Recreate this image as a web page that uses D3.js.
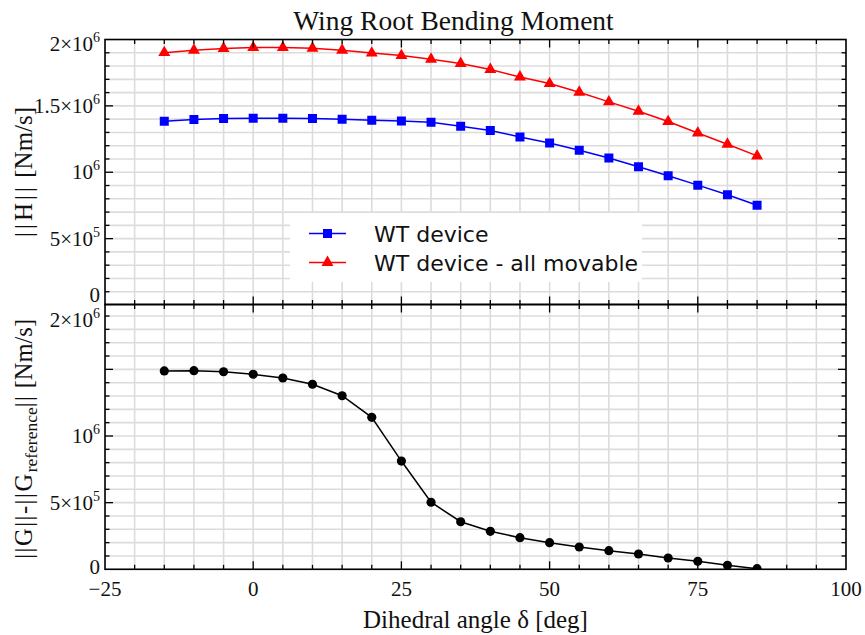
<!DOCTYPE html>
<html>
<head>
<meta charset="utf-8">
<script src="https://cdn.jsdelivr.net/npm/d3@7"></script>
<style>
  html, body { margin: 0; padding: 0; background: #fff; }
  svg { display: block; }
</style>
</head>
<body>
<svg id="chart" width="865" height="635"></svg>
<script>
// Dihedral angle sweep (deg)
const dihedral = [-15, -10, -5, 0, 5, 10, 15, 20, 25, 30, 35, 40, 45, 50, 55, 60, 65, 70, 75, 80, 85];

// ||H|| [Nm/s], wing root bending moment
const wtDevice = [1.384e6, 1.397e6, 1.405e6, 1.407e6, 1.407e6, 1.405e6, 1.400e6, 1.392e6, 1.387e6, 1.377e6,
                  1.347e6, 1.315e6, 1.266e6, 1.221e6, 1.166e6, 1.108e6, 1.041e6, 0.973e6, 0.903e6, 0.830e6, 0.752e6];
const wtDeviceAllMovable = [1.901e6, 1.919e6, 1.932e6, 1.939e6, 1.939e6, 1.934e6, 1.919e6, 1.898e6, 1.879e6, 1.851e6,
                            1.819e6, 1.774e6, 1.718e6, 1.668e6, 1.603e6, 1.530e6, 1.460e6, 1.382e6, 1.296e6, 1.211e6, 1.123e6];

// ||G|| - ||G_reference|| [Nm/s]
const gDifference = [1.488e6, 1.490e6, 1.482e6, 1.463e6, 1.435e6, 1.388e6, 1.302e6, 1.140e6, 0.812e6, 0.503e6,
                     0.357e6, 0.285e6, 0.237e6, 0.200e6, 0.167e6, 0.140e6, 0.115e6, 0.085e6, 0.060e6, 0.030e6, 0.005e6];

const seriesNames = ["WT device", "WT device - all movable"];

// Axis ticks
const xTickValues = [-25, 0, 25, 50, 75, 100];
const xTickLabels = ["\u221225", "0", "25", "50", "75", "100"];
const yTickValues = [0, 5e5, 1e6, 1.5e6, 2e6];
const yTickMantissa = ["0", "5\u00d710", "10", "1.5\u00d710", "2\u00d710"];
const yTickExponent = ["", "5", "6", "6", "6"];
const yBottomTickValues = [0, 5e5, 1e6, 2e6];

const svg = d3.select("#chart");
const serif = "'Liberation Serif', 'Times New Roman', serif";
const sans = "'DejaVu Sans', 'Noto Sans', sans-serif";

const left = 105, right = 846;
const topPanel = { y0: 39.5, y1: 304.5 };
const botPanel = { y0: 304.5, y1: 569.3 };

const x = d3.scaleLinear().domain([-25, 100]).range([left, right]);
const yTop = d3.scaleLinear().domain([0, 2e6]).range([305, 39.5]);
const yBot = d3.scaleLinear().domain([0, 2e6]).range([569.3, 302.7]);

// Clip paths per panel
const defs = svg.append("defs");
[["clipTop", topPanel], ["clipBot", botPanel]].forEach(([id, p]) => {
  defs.append("clipPath").attr("id", id)
    .append("rect").attr("x", left).attr("y", p.y0).attr("width", right - left).attr("height", p.y1 - p.y0);
});

const gridColor = "#dcdcdc";
const xMinor = d3.range(-25, 100.001, 5);
const yMinor = d3.range(0, 2e6 + 1, 1e5);

function drawGrid(panel, y, clipId) {
  const g = svg.append("g").attr("clip-path", `url(#${clipId})`);
  g.selectAll("line.v").data(xMinor).join("line")
    .attr("x1", d => x(d)).attr("x2", d => x(d))
    .attr("y1", panel.y0).attr("y2", panel.y1)
    .attr("stroke", gridColor).attr("stroke-width", 1.6);
  g.selectAll("line.h").data(yMinor).join("line")
    .attr("x1", left).attr("x2", right)
    .attr("y1", d => y(d)).attr("y2", d => y(d))
    .attr("stroke", gridColor).attr("stroke-width", 1.6);
}
drawGrid(topPanel, yTop, "clipTop");
drawGrid(botPanel, yBot, "clipBot");

// Series
function drawSeries(values, y, clipId, color, symbol, size) {
  const g = svg.append("g").attr("clip-path", `url(#${clipId})`);
  const pts = dihedral.map((d, i) => [d, values[i]]);
  g.append("path").datum(pts)
    .attr("fill", "none").attr("stroke", color).attr("stroke-width", 1.5)
    .attr("d", d3.line().x(d => x(d[0])).y(d => y(d[1])));
  g.selectAll("path.m").data(pts).join("path")
    .attr("transform", d => `translate(${x(d[0])},${y(d[1])})`)
    .attr("d", d3.symbol().type(symbol).size(size)())
    .attr("fill", color);
}
drawSeries(wtDeviceAllMovable, yTop, "clipTop", "#ff0000", d3.symbolTriangle, 62);
drawSeries(wtDevice, yTop, "clipTop", "#0000ff", d3.symbolSquare, 81);
drawSeries(gDifference, yBot, "clipBot", "#000000", d3.symbolCircle, 66);

// Legend
const legend = svg.append("g");
legend.append("rect").attr("x", 290).attr("y", 213).attr("width", 352).attr("height", 69).attr("fill", "#fff");
const legendItems = [
  { name: seriesNames[0], color: "#0000ff", symbol: d3.symbolSquare, size: 81 },
  { name: seriesNames[1], color: "#ff0000", symbol: d3.symbolTriangle, size: 62 }
];
legendItems.forEach((it, i) => {
  const cy = 233.5 + i * 29;
  legend.append("line").attr("x1", 309).attr("x2", 346).attr("y1", cy).attr("y2", cy)
    .attr("stroke", it.color).attr("stroke-width", 1.5);
  legend.append("path").attr("transform", `translate(327.5,${cy})`)
    .attr("d", d3.symbol().type(it.symbol).size(it.size)()).attr("fill", it.color);
  legend.append("text").attr("x", 374).attr("y", cy + 8)
    .attr("font-family", sans).attr("font-size", 22).attr("fill", "#111")
    .text(it.name);
});

// Ticks (inward, on every frame edge)
const tickG = svg.append("g").attr("stroke", "#000").attr("stroke-width", 1.3);
const isMajorX = d => Math.abs(d % 25) < 1e-9;
const isMajorY = d => Math.abs(d % 5e5) < 1;
function xTicksAt(yPos, dir) {
  tickG.selectAll(null).data(xMinor.filter(d => d > -25 && d < 100)).join("line")
    .attr("x1", d => x(d)).attr("x2", d => x(d))
    .attr("y1", yPos).attr("y2", d => yPos + dir * (isMajorX(d) ? 8 : 4.5));
}
xTicksAt(topPanel.y0, 1);
xTicksAt(topPanel.y1, -1);
xTicksAt(botPanel.y0, 1);
xTicksAt(botPanel.y1, -1);
function yTicksAt(y, panel) {
  const vals = yMinor.filter(v => y(v) > panel.y0 + 0.5 && y(v) < panel.y1 - 0.5);
  tickG.selectAll(null).data(vals).join("line")
    .attr("x1", left).attr("x2", d => left + (isMajorY(d) ? 8 : 4.5))
    .attr("y1", d => y(d)).attr("y2", d => y(d));
  tickG.selectAll(null).data(vals).join("line")
    .attr("x1", right).attr("x2", d => right - (isMajorY(d) ? 8 : 4.5))
    .attr("y1", d => y(d)).attr("y2", d => y(d));
}
yTicksAt(yTop, topPanel);
yTicksAt(yBot, botPanel);

// Frames
const frame = svg.append("g").attr("fill", "none").attr("stroke", "#000").attr("stroke-width", 1.6);
frame.append("rect").attr("x", left).attr("y", topPanel.y0).attr("width", right - left).attr("height", topPanel.y1 - topPanel.y0);
frame.append("rect").attr("x", left).attr("y", botPanel.y0).attr("width", right - left).attr("height", botPanel.y1 - botPanel.y0);

// Y tick labels; labels at a shared panel edge are nudged inward so they stay clear of the neighbour panel
function yLabels(y, values, nudge) {
  const g = svg.append("g").attr("font-family", serif).attr("font-size", 21).attr("fill", "#111");
  values.forEach(v => {
    const i = yTickValues.indexOf(v);
    const t = g.append("text").attr("x", 100).attr("y", y(v) + 7 + (nudge[v] || 0)).attr("text-anchor", "end");
    t.append("tspan").text(yTickMantissa[i]);
    if (yTickExponent[i]) t.append("tspan").attr("font-size", 14).attr("dy", -9).text(yTickExponent[i]);
  });
}
yLabels(yTop, yTickValues, { 0: -10, 2e6: 4 });
yLabels(yBot, yBottomTickValues, { 0: -2, 2e6: 17 });

// X tick labels
const xl = svg.append("g").attr("font-family", serif).attr("font-size", 21).attr("fill", "#111");
xTickValues.forEach((v, i) => {
  xl.append("text").attr("x", x(v)).attr("y", 596).attr("text-anchor", "middle").text(xTickLabels[i]);
});

// Title and axis titles
svg.append("text").attr("x", 453.5).attr("y", 30).attr("text-anchor", "middle")
  .attr("font-family", serif).attr("font-size", 27.5).attr("fill", "#111")
  .text("Wing Root Bending Moment");

svg.append("text").attr("x", (left + right) / 2).attr("y", 628).attr("text-anchor", "middle")
  .attr("font-family", serif).attr("font-size", 25).attr("fill", "#111")
  .text("Dihedral angle \u03b4 [deg]");

const yl1 = svg.append("text")
  .attr("transform", `translate(32,${(topPanel.y0 + topPanel.y1) / 2}) rotate(-90)`)
  .attr("text-anchor", "middle").attr("font-family", serif).attr("font-size", 25).attr("fill", "#111");
yl1.append("tspan").attr("letter-spacing", 3).text("||H||");
yl1.append("tspan").text(" [Nm/s]");

const yl2 = svg.append("text")
  .attr("transform", `translate(32,${(botPanel.y0 + botPanel.y1) / 2 + 2}) rotate(-90)`)
  .attr("text-anchor", "middle").attr("font-family", serif).attr("font-size", 24.5).attr("fill", "#111");
yl2.append("tspan").attr("letter-spacing", 1.5).text("||G||-||G");
yl2.append("tspan").attr("font-size", 17.5).attr("dy", 5).text("reference");
yl2.append("tspan").attr("dy", -5).attr("letter-spacing", 1.5).text("||");
yl2.append("tspan").text(" [Nm/s]");
</script>
</body>
</html>
